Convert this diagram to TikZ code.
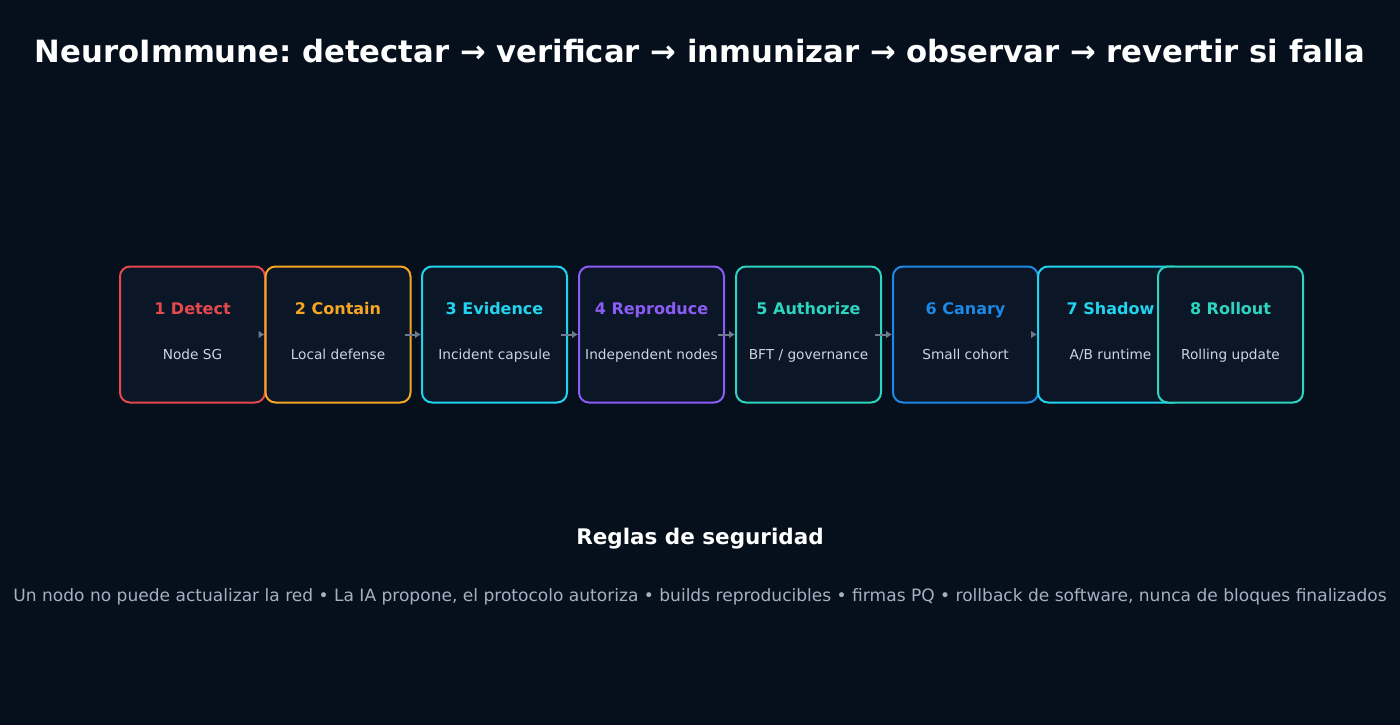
\documentclass[tikz,border=0pt]{standalone}
\usepackage{fontspec}
\setmainfont{DejaVu Sans}
\usepackage{tikz}
\usetikzlibrary{arrows.meta}
\definecolor{niBack}{HTML}{06101C}
\definecolor{niBox}{HTML}{0B1627}
\definecolor{niArrow}{HTML}{6B7A8F}
\definecolor{niSub}{HTML}{CBD5E1}
\definecolor{niRule}{HTML}{A3B1C2}
\definecolor{niRed}{HTML}{E5484D}
\definecolor{niOrange}{HTML}{F5A623}
\definecolor{niCyan}{HTML}{22D3EE}
\definecolor{niPurple}{HTML}{8B5CF6}
\definecolor{niTeal}{HTML}{2DD4BF}
\definecolor{niBlue}{HTML}{1E88E5}
\frenchspacing
\tikzset{
  stage/.style={draw=#1, line width=2pt, fill=niBox, rounded corners=10pt,
    minimum width=145pt, minimum height=136pt, inner sep=0pt},
  stagetitle/.style={text=#1, anchor=base, font=\fontsize{16}{19}\selectfont\bfseries},
  stagesub/.style={text=niSub, anchor=base, font=\fontsize{13.7}{16}\selectfont},
  flow/.style={line width=2pt, niArrow, -{Latex[length=6pt,width=8pt]}}
}
\begin{document}
\begin{tikzpicture}[x=1pt, y=-1pt]

  \fill [niBack] (0,0) rectangle (1400,725);
  \useasboundingbox (0,0) rectangle (1400,725);

  \node (title) [text=white, anchor=base, font=\fontsize{30.7}{36}\selectfont\bfseries] at (700,62.5)
    {NeuroImmune: detectar → verificar → inmunizar → observar → revertir si falla};

  % stages
  \foreach \n/\x/\c/\t/\s in {1/192.5/niRed/Detect/Node SG,
      2/338/niOrange/Contain/Local defense,
      3/494.5/niCyan/Evidence/Incident capsule,
      4/651.5/niPurple/Reproduce/Independent nodes,
      5/808.5/niTeal/Authorize/{BFT / governance},
      6/965.5/niBlue/Canary/Small cohort,
      7/1110.5/niCyan/Shadow/{A/B runtime},
      8/1230.5/niTeal/Rollout/Rolling update} {
    \node (b\n) [stage=\c] at (\x,334.5) {};
    \node (t\n) [stagetitle=\c] at (\x,314) {\n\ \t};
    \node (s\n) [stagesub] at (\x,359.5) {\s};
  }

  \foreach \a/\b in {1/2, 2/3, 3/4, 4/5, 5/6, 6/7}
    \draw [flow] ([xshift=-7pt]b\a.east) -- (b\b.west);

  \node (rules) [text=white, anchor=base, font=\fontsize{21.5}{26}\selectfont\bfseries] at (700,544)
    {Reglas de seguridad};
  \node (rulelist) [text=niRule, anchor=base, font=\fontsize{17.05}{20}\selectfont] at (700,601)
    {Un nodo no puede actualizar la red • La IA propone, el protocolo autoriza • builds reproducibles • firmas PQ • rollback de software, nunca de bloques finalizados};
\end{tikzpicture}
\end{document}
